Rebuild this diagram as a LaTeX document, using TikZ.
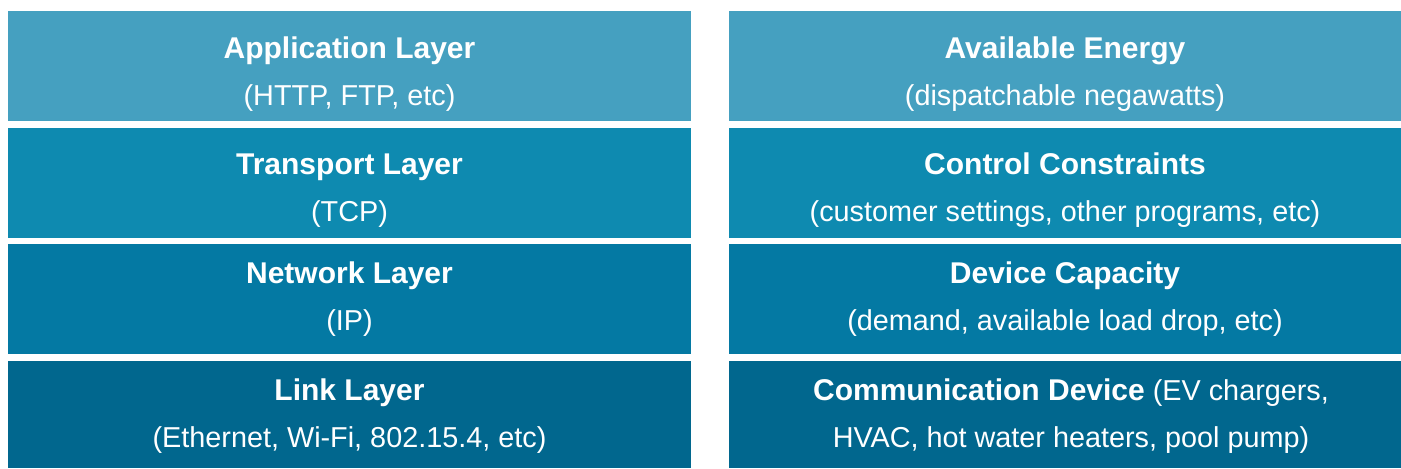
\documentclass[tikz,border=0pt]{standalone}
\usepackage{fontspec}
\setmainfont{Liberation Sans}
\usepackage{tikz}

\definecolor{layerA}{HTML}{45A0C0}
\definecolor{layerB}{HTML}{0E8AB0}
\definecolor{layerC}{HTML}{0479A3}
\definecolor{layerD}{HTML}{01678E}

\begin{document}
\begin{tikzpicture}[x=0.75pt,y=-0.75pt,
	box/.style={rectangle,inner sep=0pt,anchor=north west,minimum height=82.5pt},
	lbox/.style={box,minimum width=512.25pt},
	rbox/.style={box,minimum width=504pt},
	title/.style={anchor=base,inner sep=0pt,text=white,font=\fontsize{22.5}{27}\selectfont\bfseries},
	sub/.style={anchor=base,inner sep=0pt,text=white,font=\fontsize{21.6}{26}\selectfont}]
	\useasboundingbox (0,0) rectangle (1401,468);

	% protocol stack
	\node[lbox,fill=layerA] (app) at (8,11) {};
	\node[lbox,fill=layerB] (trans) at (8,128) {};
	\node[lbox,fill=layerC] (net) at (8,244) {};
	\node[lbox,fill=layerD,minimum height=80.25pt] (link) at (8,361) {};

	% energy stack
	\node[rbox,fill=layerA] (energy) at (729,11) {};
	\node[rbox,fill=layerB] (constr) at (729,128) {};
	\node[rbox,fill=layerC] (capac) at (729,244) {};
	\node[rbox,fill=layerD,minimum height=80.25pt] (device) at (729,361) {};

	\node[title] (appT) at (349.5,58) {Application Layer};
	\node[sub] (appS) at ([yshift=-35.25pt]appT.base) {(HTTP, FTP, etc)};
	\node[title] (transT) at (349.5,174) {Transport Layer};
	\node[sub] (transS) at ([yshift=-35.25pt]transT.base) {(TCP)};
	\node[title] (netT) at (349.5,283) {Network Layer};
	\node[sub] (netS) at ([yshift=-35.25pt]netT.base) {(IP)};
	\node[title] (linkT) at (349.5,400) {Link Layer};
	\node[sub] (linkS) at ([yshift=-35.25pt]linkT.base) {(Ethernet, Wi-Fi, 802.15.4, etc)};

	\node[title] (energyT) at (1065,58) {Available Energy};
	\node[sub] (energyS) at ([yshift=-35.25pt]energyT.base) {(dispatchable negawatts)};
	\node[title] (constrT) at (1065,174) {Control Constraints};
	\node[sub] (constrS) at ([yshift=-35.25pt]constrT.base) {(customer settings, other programs, etc)};
	\node[title] (capacT) at (1065,283) {Device Capacity};
	\node[sub] (capacS) at ([yshift=-35.25pt]capacT.base) {(demand, available load drop, etc)};
	\node[sub] (deviceT) at (1071,400) {{\fontsize{22.5}{27}\selectfont\bfseries Communication Device} (EV chargers,};
	\node[sub] (deviceS) at ([yshift=-35.25pt]deviceT.base) {HVAC, hot water heaters, pool pump)};
\end{tikzpicture}
\end{document}
